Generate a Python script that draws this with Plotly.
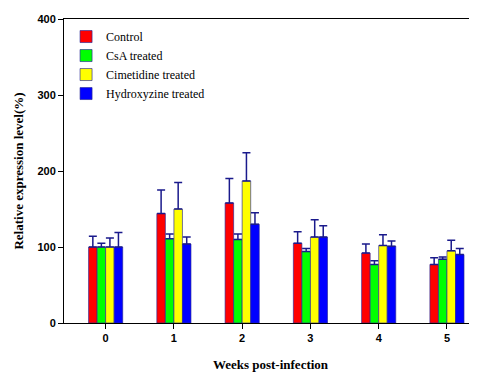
import plotly.graph_objects as go

weeks = [0, 1, 2, 3, 4, 5]
tick_labels = ["0", "1", "2", "3", "4", "5"]

control = [100, 144, 158, 105, 92, 77]
control_err = [14, 31, 32, 15, 12, 9]
csa = [100, 111, 110, 94, 77, 84]
csa_err = [5, 6, 7, 4, 5, 3]
cimetidine = [100, 150, 187, 113, 102, 95]
cimetidine_err = [12, 35, 37, 23, 14, 14]
hydroxyzine = [100, 104, 130, 113, 101, 90]
hydroxyzine_err = [19, 9, 15, 15, 7, 8]

series = [
    ("Control", control, control_err, "#FF0000"),
    ("CsA treated", csa, csa_err, "#00FF00"),
    ("Cimetidine treated", cimetidine, cimetidine_err, "#FFFF00"),
    ("Hydroxyzine treated", hydroxyzine, hydroxyzine_err, "#0000FF"),
]

serif = "Liberation Serif, Times New Roman, serif"
sans = "Liberation Sans, Arial, sans-serif"

fig = go.Figure()
for name, vals, errs, col in series:
    fig.add_trace(go.Bar(
        x=weeks, y=vals, name=name,
        marker=dict(color=col, line=dict(color="rgba(40,40,150,0.65)", width=1)),
        error_y=dict(type="data", array=errs, arrayminus=[0] * len(errs),
                     symmetric=False, color="#1a1a8c", thickness=1.5, width=4),
    ))

fig.update_layout(
    width=469, height=366,
    margin=dict(l=56, r=0, t=11, b=51, autoexpand=False),
    paper_bgcolor="white", plot_bgcolor="white",
    barmode="group", bargap=0.5, bargroupgap=0,
    showlegend=True,
    legend=dict(x=0.005, y=0.99, xanchor="left", yanchor="top",
                font=dict(family=serif, size=12, color="black"),
                bgcolor="rgba(0,0,0,0)", tracegroupgap=0, itemwidth=30),
    xaxis=dict(
        range=[-0.61, 5.44], tickmode="array", tickvals=weeks, ticktext=tick_labels,
        showline=True, linecolor="black", linewidth=1, mirror=True, automargin=False,
        ticks="outside", ticklen=5, tickcolor="black", showgrid=False, zeroline=False,
        tickfont=dict(family=sans, size=11, color="black", weight="bold"),
        title=dict(text="Weeks post-infection", standoff=16,
                   font=dict(family=serif, size=13, color="black", weight="bold")),
    ),
    yaxis=dict(
        range=[0, 400], tickvals=[0, 100, 200, 300, 400], automargin=False,
        showline=True, linecolor="black", linewidth=1,
        ticks="outside", ticklen=5, tickcolor="black", showgrid=False, zeroline=False,
        tickfont=dict(family=sans, size=11, color="black", weight="bold"),
        title=dict(text="Relative expression level(%)", standoff=10,
                   font=dict(family=serif, size=13, color="black", weight="bold")),
    ),
)

fig.write_html("out.html")
